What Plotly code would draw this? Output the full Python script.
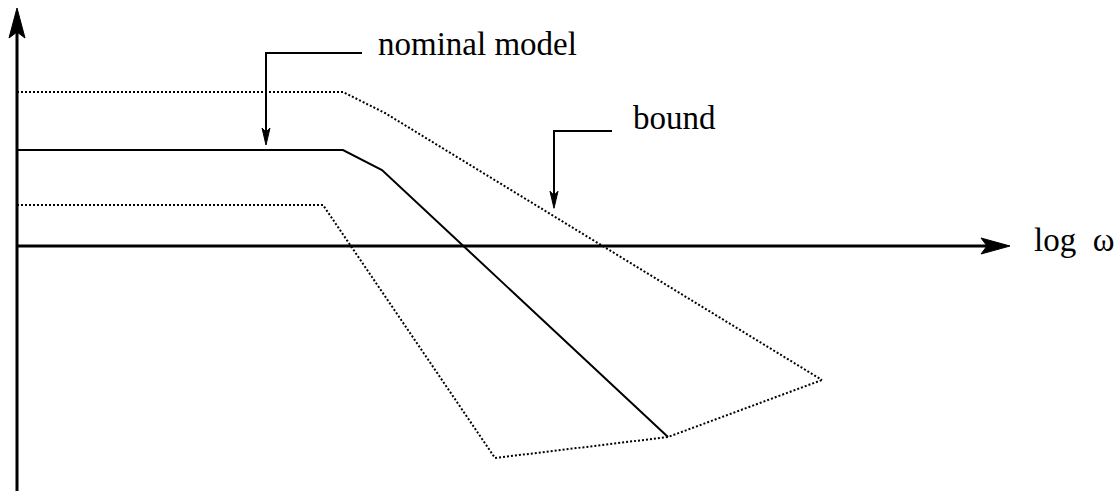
import numpy as np
import plotly.graph_objects as go

# Bode-style magnitude sketch: nominal model with an uncertainty bound.
# x: log(omega) (arbitrary units), y: magnitude (arbitrary units)
nominal_x = [0.0, 3.26, 3.65, 6.51]
nominal_y = [1.92, 1.92, 1.52, -3.82]

upper_bound_x = [0.0, 3.26, 3.68, 8.05]
upper_bound_y = [3.08, 3.08, 2.66, -2.68]

lower_bound_x = [0.0, 3.06, 4.78, 6.51, 8.05]
lower_bound_y = [0.82, 0.82, -4.24, -3.82, -2.68]

axis_label = "log  ω"
nominal_label = "nominal model"
bound_label = "bound"

# ---- figure geometry ----
W, H = 1117, 491
PX_X = 100.0   # pixels per x unit
PX_Y = 50.0    # pixels per y unit
X0 = -0.17
X1 = X0 + W / PX_X
Y1 = 4.92
Y0 = Y1 - H / PX_Y

FONT = dict(family="Liberation Serif, Times New Roman, serif", size=33, color="black")

fig = go.Figure()


def line(x, y, width, dash="solid"):
    fig.add_trace(go.Scatter(
        x=x, y=y, mode="lines",
        line=dict(color="black", width=width, dash=dash),
        hoverinfo="skip", showlegend=False,
    ))


def arrowhead(tip_x, tip_y, direction, length, half_w, notch):
    """Filled stealth arrowhead; sizes given in pixels."""
    dx, dy = direction  # unit vector in pixel space (x right, y up)
    px, py = -dy, dx
    pts_px = [
        (0, 0),
        (-length * dx + half_w * px, -length * dy + half_w * py),
        (-notch * dx, -notch * dy),
        (-length * dx - half_w * px, -length * dy - half_w * py),
        (0, 0),
    ]
    xs = [tip_x + a / PX_X for a, _ in pts_px]
    ys = [tip_y + b / PX_Y for _, b in pts_px]
    fig.add_trace(go.Scatter(
        x=xs, y=ys, mode="lines", fill="toself", fillcolor="black",
        line=dict(color="black", width=1),
        hoverinfo="skip", showlegend=False,
    ))


# coordinate axes
x_tip = 9.93
y_tip = 4.76
line([0, x_tip - 0.2], [0, 0], 3)
arrowhead(x_tip, 0, (1, 0), 29, 8, 23)
line([0, 0], [Y0 - 0.1, y_tip - 0.4], 3)
arrowhead(0, y_tip, (0, 1), 30, 8, 24)

# curves
line(upper_bound_x, upper_bound_y, 2, dash="2px,2px")
line(lower_bound_x, lower_bound_y, 2, dash="2px,2px")
line(nominal_x, nominal_y, 2)

# callout pointers, tips placed just above the curves they label
def callout(x, y_top, x_end, curve_x, curve_y, gap_px):
    tip_y = float(np.interp(x, curve_x, curve_y)) + gap_px / PX_Y
    line([x_end, x, x], [y_top, y_top, tip_y + 0.2], 2)
    arrowhead(x, tip_y, (0, -1), 17, 4, 13)


callout(2.49, 3.86, 3.45, nominal_x, nominal_y, 5)
callout(5.37, 2.30, 5.95, upper_bound_x, upper_bound_y, 8)

annotations = [
    dict(x=3.59, y=4.05, text=nominal_label),
    dict(x=6.14, y=2.56, text=bound_label),
    dict(x=10.15, y=0.12, text=axis_label),
]
for a in annotations:
    a.update(xref="x", yref="y", showarrow=False, xanchor="left",
             yanchor="middle", font=FONT)

fig.update_layout(
    width=W, height=H,
    margin=dict(l=0, r=0, t=0, b=0),
    paper_bgcolor="white", plot_bgcolor="white",
    xaxis=dict(range=[X0, X1], visible=False, fixedrange=True),
    yaxis=dict(range=[Y0, Y1], visible=False, fixedrange=True),
    annotations=annotations,
    hovermode=False,
    showlegend=False,
)

fig.write_html("out.html", config={"displayModeBar": False})
